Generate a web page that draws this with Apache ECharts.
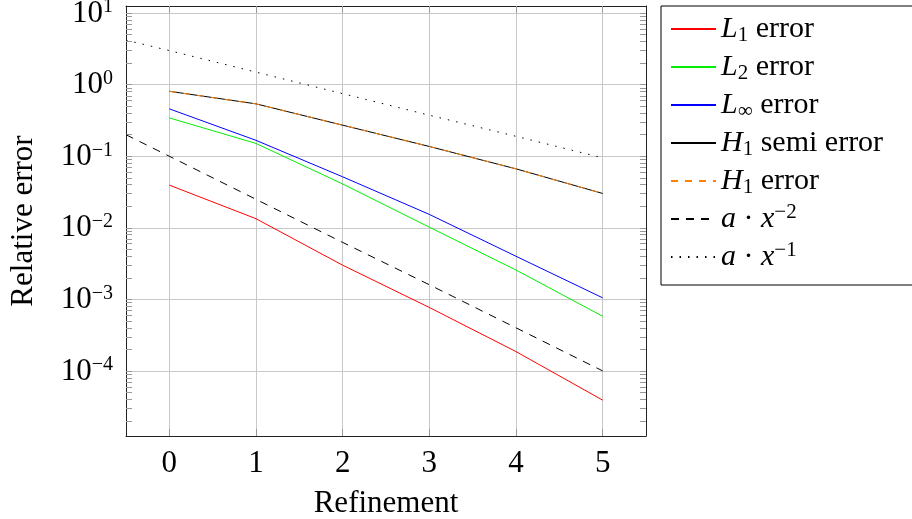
<!DOCTYPE html>
<html>
<head>
<meta charset="utf-8">
<script src="https://cdn.jsdelivr.net/npm/echarts@6/dist/echarts.min.js"></script>
<style>
  html, body { margin: 0; padding: 0; background: #fff; }
  #chart { width: 912px; height: 519px; }
</style>
</head>
<body>
<div id="chart"></div>
<script>
// refinement levels
var refinement = [0, 1, 2, 3, 4, 5];
// errors
var l1Err = [0.0395, 0.0134, 0.0030, 0.00077, 0.000186, 0.000039];
var l2Err = [0.344, 0.151, 0.0410, 0.0102, 0.00257, 0.00058];
var linfErr = [0.46, 0.167, 0.0516, 0.0154, 0.0040, 0.00105];
var h1SemiErr = [0.81, 0.54, 0.272, 0.137, 0.0667, 0.0302];
var h1Err = [0.81, 0.54, 0.272, 0.137, 0.0667, 0.0302];
// reference slopes, from the left border to x = 5
var refX = [-0.5, 0, 1, 2, 3, 4, 5];
var slope2 = [0.2, 0.1, 0.025, 0.00625, 0.0016, 0.0004, 0.0001];
var slope1 = [4.2, 3.0, 1.5, 0.75, 0.375, 0.19, 0.095];
// log axis: decades and the mantissas of the small ticks
var decades = [-5, -4, -3, -2, -1, 0, 1];
var mantissas = [1, 2, 3, 4, 5, 6, 7, 8, 9];

var serif = 'Liberation Serif';
var yMin = 1.23e-5, yMax = 12.6;

function pairs(xs, ys) {
  return xs.map(function (x, i) { return [x, ys[i]]; });
}

// every 1..9 x 10^e inside the range, for the small log ticks
var logTicks = [];
decades.forEach(function (e) {
  mantissas.forEach(function (m) {
    var v = m * Math.pow(10, e);
    if (v > yMin && v < yMax) logTicks.push(v);
  });
});

// legend labels in math style
var legendText = {
  'L1 error': '{it|L}{sub|1}{t| error}',
  'L2 error': '{it|L}{sub|2}{t| error}',
  'Linf error': '{it|L}{sub|∞}{t| error}',
  'H1 semi error': '{it|H}{sub|1}{t| semi error}',
  'H1 error': '{it|H}{sub|1}{t| error}',
  'a x^-2': '{it|a}{t| · }{it|x}{sup|−2}',
  'a x^-1': '{it|a}{t| · }{it|x}{sup|−1}'
};

function lineSeries(name, data, color, type, z) {
  return {
    name: name,
    type: 'line',
    data: data,
    symbol: 'none',
    silent: true,
    z: z || 2,
    lineStyle: { color: color, width: 1, type: type || 'solid' },
    itemStyle: { color: color }
  };
}

var frame = { show: true, onZero: false, lineStyle: { color: '#222', width: 1 } };
var tickGrey = { color: '#999', width: 1 };

var chart = echarts.init(document.getElementById('chart'));

var option = {
  animation: false,
  grid: { left: 126, right: 266, top: 6, bottom: 83, outerBoundsMode: 'none' },
  legend: {
    left: 661,
    top: 6,
    orient: 'vertical',
    selectedMode: false,
    itemWidth: 45,
    itemHeight: 14,
    itemGap: 4,
    padding: [6, 60, 11, 9],
    borderColor: '#000',
    borderWidth: 1,
    backgroundColor: '#fff',
    itemStyle: { opacity: 0 },
    formatter: function (name) { return legendText[name]; },
    textStyle: {
      fontFamily: serif,
      fontSize: 30,
      color: '#000',
      lineHeight: 34,
      rich: {
        t: { fontFamily: serif, fontSize: 30, color: '#000', lineHeight: 34 },
        it: { fontFamily: serif, fontStyle: 'italic', fontSize: 30, color: '#000', lineHeight: 34 },
        sub: { fontFamily: serif, fontSize: 21, color: '#000', lineHeight: 20, verticalAlign: 'bottom' },
        sup: { fontFamily: serif, fontSize: 21, color: '#000', lineHeight: 20, verticalAlign: 'top' }
      }
    },
    data: ['L1 error', 'L2 error', 'Linf error', 'H1 semi error', 'H1 error', 'a x^-2', 'a x^-1']
  },
  xAxis: [{
    type: 'value',
    min: -0.5,
    max: 5.5,
    name: 'Refinement',
    nameLocation: 'middle',
    nameGap: 52,
    nameTextStyle: { fontFamily: serif, fontSize: 31, color: '#000' },
    axisLine: frame,
    axisTick: { show: true, inside: true, length: 7, customValues: refinement, lineStyle: tickGrey },
    axisLabel: {
      margin: 12,
      fontFamily: serif,
      fontSize: 31,
      color: '#000',
      customValues: refinement
    },
    splitLine: { show: true, lineStyle: { color: '#c8c8c8', width: 1 } }
  }, {
    type: 'value',
    position: 'top',
    min: -0.5,
    max: 5.5,
    axisLine: frame,
    axisTick: { show: true, inside: true, length: 7, customValues: refinement, lineStyle: tickGrey },
    axisLabel: { show: false },
    splitLine: { show: false }
  }],
  yAxis: [{
    type: 'log',
    position: 'left',
    min: yMin,
    max: yMax,
    logBase: 10,
    name: 'Relative error',
    nameLocation: 'middle',
    nameGap: 87,
    nameTextStyle: { fontFamily: serif, fontSize: 31, color: '#000' },
    axisLine: frame,
    axisTick: { show: false },
    axisLabel: {
      margin: 13,
      showMinLabel: false,
      showMaxLabel: false,
      fontFamily: serif,
      fontSize: 31,
      color: '#000',
      formatter: function (v) {
        var e = Math.round(Math.log10(v));
        if (Math.abs(Math.log10(v) - e) > 1e-6) return '';
        return '{b|10}{sup|' + (e < 0 ? '−' + (-e) : e) + '}';
      },
      rich: {
        b: { fontFamily: serif, fontSize: 31, color: '#000', lineHeight: 32, padding: [6, 0, 0, 0], verticalAlign: 'bottom' },
        sup: { fontFamily: serif, fontSize: 20, color: '#000', lineHeight: 30, verticalAlign: 'top' }
      }
    },
    splitLine: { show: true, lineStyle: { color: '#c8c8c8', width: 1 } }
  }, {
    // small log ticks on the left frame
    type: 'log',
    position: 'left',
    offset: 0,
    min: yMin,
    max: yMax,
    logBase: 10,
    axisLine: { show: false, onZero: false },
    axisTick: { show: true, inside: true, length: 6, customValues: logTicks, lineStyle: tickGrey },
    axisLabel: { show: false },
    splitLine: { show: false }
  }, {
    // small log ticks on the right frame
    type: 'log',
    position: 'right',
    min: yMin,
    max: yMax,
    logBase: 10,
    axisLine: frame,
    axisTick: { show: true, inside: true, length: 6, customValues: logTicks, lineStyle: tickGrey },
    axisLabel: { show: false },
    splitLine: { show: false }
  }],
  series: [
    lineSeries('L1 error', pairs(refinement, l1Err), '#ff0000'),
    lineSeries('L2 error', pairs(refinement, l2Err), '#00ee00'),
    lineSeries('Linf error', pairs(refinement, linfErr), '#0000ff'),
    lineSeries('H1 semi error', pairs(refinement, h1SemiErr), '#000000'),
    lineSeries('H1 error', pairs(refinement, h1Err), '#ff8000', [7, 7], 3),
    lineSeries('a x^-2', pairs(refX, slope2), '#000000', [8, 7]),
    lineSeries('a x^-1', pairs(refX, slope1), '#000000', [1.5, 7])
  ]
};

chart.setOption(option);
</script>
</body>
</html>
